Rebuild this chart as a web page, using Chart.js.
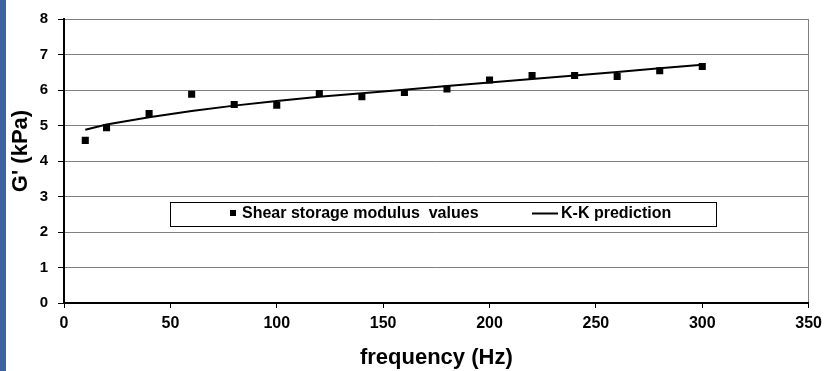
<!DOCTYPE html>
<html>
<head>
<meta charset="utf-8">
<script src="https://cdn.jsdelivr.net/npm/chart.js@4/dist/chart.umd.min.js"></script>
<style>
  html, body { margin: 0; padding: 0; background: #ffffff; }
  #wrap { position: relative; width: 828px; height: 371px; }
  #strip { position: absolute; left: 0; top: 0; width: 6px; height: 371px; background: #3f63a0; z-index: 2; }
  canvas { position: absolute; left: 0; top: 0; }
</style>
</head>
<body>
<div id="wrap">
  <div id="strip"></div>
  <canvas id="c" width="828" height="371"></canvas>
</div>
<script>
// ---- data ----
const frequencyHz = [10, 20, 40, 60, 80, 100, 120, 140, 160, 180, 200, 220, 240, 260, 280, 300];
const shearStorageModulus = [4.58, 4.94, 5.34, 5.88, 5.59, 5.57, 5.90, 5.81, 5.93, 6.03, 6.28, 6.41, 6.41, 6.38, 6.54, 6.66];
const kkPrediction = [4.88, 5.03, 5.23, 5.41, 5.56, 5.69, 5.81, 5.91, 6.01, 6.11, 6.21, 6.31, 6.41, 6.51, 6.61, 6.71];
const seriesLabels = ["Shear storage modulus  values", "K-K prediction"];
const xAxisTitle = "frequency (Hz)";
const yAxisTitle = "G' (kPa)";
const xTicks = [0, 50, 100, 150, 200, 250, 300, 350];
const yTicks = [0, 1, 2, 3, 4, 5, 6, 7, 8];

const FONT = "'Liberation Sans', Arial, sans-serif";

const pointsData = frequencyHz.map((f, i) => ({ x: f, y: shearStorageModulus[i] }));
const lineData = frequencyHz.map((f, i) => ({ x: f, y: kkPrediction[i] }));

const legendBoxPlugin = {
  id: 'legendBox',
  afterDraw(chart) {
    const ctx = chart.ctx;
    const ds = chart.data.datasets;
    ctx.save();
    // legend box
    ctx.fillStyle = '#ffffff';
    ctx.fillRect(170.5, 202.5, 546, 24);
    ctx.strokeStyle = '#000000';
    ctx.lineWidth = 1;
    ctx.strokeRect(170.5, 202.5, 546, 24);
    ctx.fillStyle = '#000000';
    ctx.fillRect(230, 210, 6, 6);
    ctx.beginPath();
    ctx.moveTo(532, 213.5);
    ctx.lineTo(558, 213.5);
    ctx.lineWidth = 2;
    ctx.stroke();
    ctx.font = "bold 16px " + FONT;
    ctx.textBaseline = 'middle';
    ctx.textAlign = 'left';
    ctx.fillText(ds[0].label, 242, 214);
    ctx.fillText(ds[1].label, 561, 214);
    // y axis title (positioned like the reference, slightly above plot centre)
    ctx.translate(21, 151);
    ctx.rotate(-Math.PI / 2);
    ctx.font = "bold 22px " + FONT;
    ctx.textAlign = 'center';
    ctx.textBaseline = 'middle';
    ctx.fillText(chart.options.scales.y.title.text, 0, 0);
    ctx.restore();
  }
};

new Chart(document.getElementById('c'), {
  type: 'scatter',
  data: {
    datasets: [
      {
        label: seriesLabels[0],
        data: pointsData,
        pointStyle: 'rect',
        pointRadius: 5,
        pointHoverRadius: 5,
        backgroundColor: '#000000',
        borderColor: '#000000',
        borderWidth: 0,
        showLine: false
      },
      {
        label: seriesLabels[1],
        data: lineData,
        showLine: true,
        tension: 0,
        pointRadius: 0,
        borderColor: '#000000',
        borderWidth: 2,
        fill: false
      }
    ]
  },
  options: {
    responsive: false,
    maintainAspectRatio: false,
    animation: false,
    events: [],
    layout: { padding: { left: 0, top: 14, right: 18, bottom: 0 } },
    plugins: {
      legend: { display: false },
      tooltip: { enabled: false },
      title: { display: false }
    },
    scales: {
      x: {
        type: 'linear',
        min: 0,
        max: 350,
        afterFit(scale) { scale.height = 68; },
        afterBuildTicks(scale) { scale.ticks = xTicks.map(v => ({ value: v })); },
        border: { display: true, color: '#000000', width: 2 },
        grid: {
          drawOnChartArea: true,
          drawTicks: true,
          tickLength: 5,
          tickColor: '#000000',
          tickWidth: 1,
          lineWidth: 1,
          color: (c) => (c.tick && c.tick.value === 350 ? '#808080' : 'rgba(0,0,0,0)')
        },
        ticks: {
          color: '#000000',
          padding: 6,
          maxRotation: 0,
          font: { family: FONT, size: 16, weight: 'bold' }
        },
        title: {
          display: true,
          text: xAxisTitle,
          color: '#000000',
          padding: { top: 0, bottom: 0 },
          font: { family: FONT, size: 22, weight: 'bold' }
        }
      },
      y: {
        type: 'linear',
        min: 0,
        max: 8,
        afterFit(scale) { scale.width = 64; },
        afterBuildTicks(scale) { scale.ticks = yTicks.map(v => ({ value: v })); },
        border: { display: true, color: '#000000', width: 2 },
        grid: {
          drawOnChartArea: true,
          drawTicks: true,
          tickLength: 6,
          tickColor: '#000000',
          tickWidth: 1,
          lineWidth: 1,
          color: '#808080'
        },
        ticks: {
          color: '#000000',
          padding: 10,
          font: { family: FONT, size: 15, weight: 'bold' }
        },
        title: {
          display: false,
          text: yAxisTitle,
          color: '#000000',
          font: { family: FONT, size: 22, weight: 'bold' }
        }
      }
    }
  },
  plugins: [legendBoxPlugin]
});
</script>
</body>
</html>
